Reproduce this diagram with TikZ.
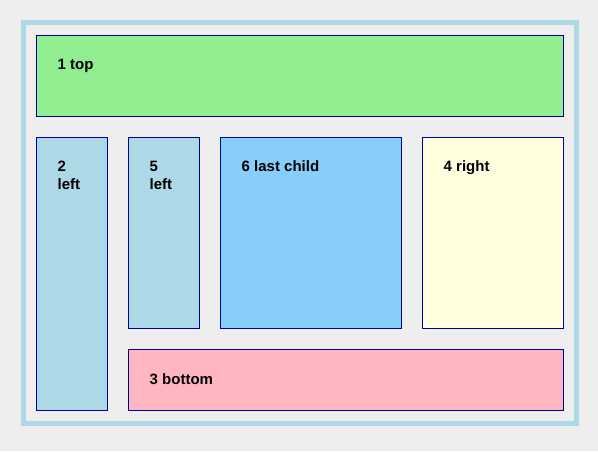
\documentclass[tikz,border=0pt]{standalone}
\usepackage{fontspec}
\setmainfont{Liberation Sans}
\definecolor{bgc}{HTML}{EEEEEE}
\definecolor{framec}{HTML}{ADD8E6}
\definecolor{edgec}{HTML}{00009C}
\definecolor{greenc}{HTML}{90EE90}
\definecolor{bluec}{HTML}{ADD8E6}
\definecolor{skyc}{HTML}{87CEFA}
\definecolor{yellowc}{HTML}{FFFFE0}
\definecolor{pinkc}{HTML}{FFB6C1}
\tikzset{
  panel/.style={draw=edgec, line width=1pt},
  lbl/.style={anchor=base west, inner sep=0pt, align=left,
    font=\fontsize{15}{18}\selectfont\bfseries},
}
\begin{document}
\begin{tikzpicture}[x=1pt,y=-1pt]
\useasboundingbox (0,0) rectangle (598,451);
\fill[bgc] (0,0) rectangle (598,451);
\draw[framec, line width=5pt] (23.5,22.5) rectangle (576.5,423.5);
% panels
\draw[panel, fill=greenc]  (36.5,35.5)  coordinate (p1) rectangle (563.5,116.5);
\draw[panel, fill=bluec]   (36.5,137.5) coordinate (p2) rectangle (107.5,410);
\draw[panel, fill=bluec]   (128.5,137.5) coordinate (p5) rectangle (199.5,328);
\draw[panel, fill=skyc]    (220.5,137.5) coordinate (p6) rectangle (401.5,328);
\draw[panel, fill=yellowc] (422.5,137.5) coordinate (p4) rectangle (563.5,328);
\draw[panel, fill=pinkc]   (128.5,349.5) coordinate (p3) rectangle (563.5,410);
% labels (base anchor of a two-line label is its last line)
\node[lbl] (t1) at ([shift={(21,34)}]p1) {1 top};
\node[lbl] (t2) at ([shift={(21,52)}]p2) {2\\left};
\node[lbl] (t5) at ([shift={(21,52)}]p5) {5\\left};
\node[lbl] (t6) at ([shift={(21,34)}]p6) {6 last child};
\node[lbl] (t4) at ([shift={(21,34)}]p4) {4 right};
\node[lbl] (t3) at ([shift={(21,34.5)}]p3) {3 bottom};
\end{tikzpicture}
\end{document}
